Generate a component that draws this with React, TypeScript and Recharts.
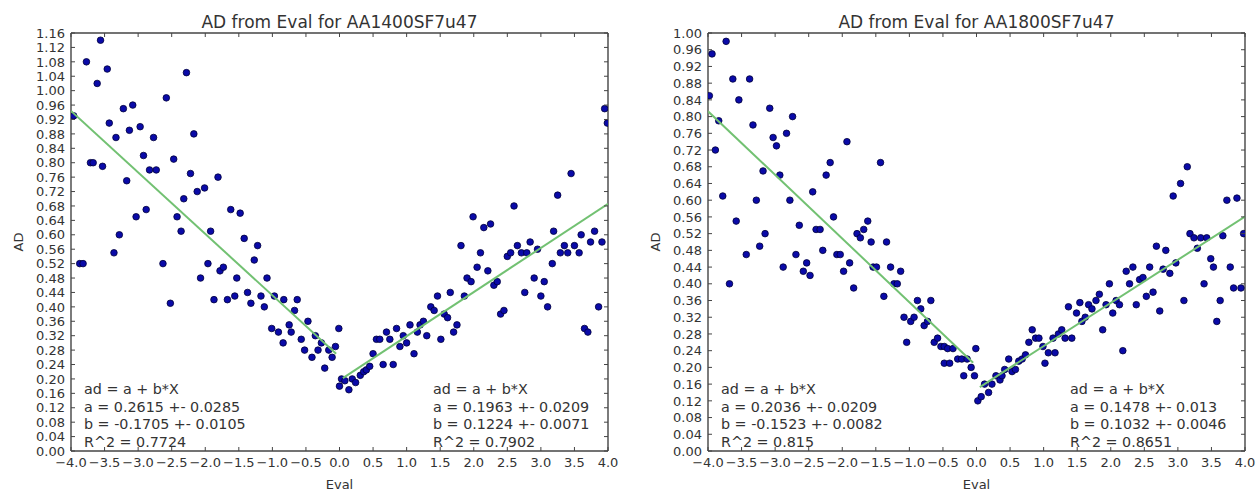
import React from 'react';
import { ScatterChart, Scatter, XAxis, YAxis } from 'recharts';

// tick values shared by both panels
const xTicks = [-4, -3.5, -3, -2.5, -2, -1.5, -1, -0.5, 0, 0.5, 1, 1.5, 2, 2.5, 3, 3.5, 4];
const yTicks1400 = [
  0, 0.04, 0.08, 0.12, 0.16, 0.2, 0.24, 0.28, 0.32, 0.36, 0.4, 0.44, 0.48, 0.52, 0.56,
  0.6, 0.64, 0.68, 0.72, 0.76, 0.8, 0.84, 0.88, 0.92, 0.96, 1.0, 1.04, 1.08, 1.12, 1.16,
];
const yTicks1800 = [
  0, 0.04, 0.08, 0.12, 0.16, 0.2, 0.24, 0.28, 0.32, 0.36, 0.4, 0.44, 0.48, 0.52, 0.56,
  0.6, 0.64, 0.68, 0.72, 0.76, 0.8, 0.84, 0.88, 0.92, 0.96, 1.0,
];

// [eval, ad] pairs
const points1400 = [
  [-3.96, 0.93], [-3.87, 0.52], [-3.82, 0.52], [-3.77, 1.08], [-3.71, 0.8], [-3.67, 0.8],
  [-3.61, 1.02], [-3.56, 1.14], [-3.53, 0.79], [-3.46, 1.06], [-3.43, 0.91], [-3.36, 0.55],
  [-3.33, 0.87], [-3.28, 0.6], [-3.22, 0.95], [-3.17, 0.75], [-3.13, 0.89], [-3.08, 0.96],
  [-3.03, 0.65], [-2.97, 0.9], [-2.92, 0.82], [-2.88, 0.67], [-2.83, 0.78], [-2.77, 0.87],
  [-2.73, 0.78], [-2.63, 0.52], [-2.58, 0.98], [-2.52, 0.41], [-2.47, 0.81], [-2.42, 0.65],
  [-2.36, 0.61], [-2.32, 0.7], [-2.28, 1.05], [-2.22, 0.77], [-2.17, 0.88], [-2.12, 0.72],
  [-2.07, 0.48], [-2.01, 0.73], [-1.96, 0.52], [-1.92, 0.61], [-1.87, 0.42], [-1.81, 0.76],
  [-1.78, 0.5], [-1.73, 0.51], [-1.67, 0.42], [-1.62, 0.67], [-1.56, 0.43], [-1.53, 0.48],
  [-1.48, 0.66], [-1.42, 0.59], [-1.37, 0.44], [-1.32, 0.41], [-1.27, 0.53], [-1.22, 0.57],
  [-1.17, 0.43], [-1.12, 0.4], [-1.08, 0.48], [-1.01, 0.34], [-0.97, 0.43], [-0.91, 0.33],
  [-0.84, 0.3], [-0.83, 0.42], [-0.75, 0.35], [-0.72, 0.33], [-0.67, 0.39], [-0.63, 0.42],
  [-0.57, 0.31], [-0.52, 0.28], [-0.47, 0.36], [-0.41, 0.26], [-0.36, 0.32], [-0.32, 0.28],
  [-0.27, 0.3], [-0.22, 0.23], [-0.16, 0.28], [-0.11, 0.26], [-0.06, 0.29], [-0.01, 0.34],
  [0.0, 0.18], [0.03, 0.2], [0.08, 0.195], [0.14, 0.17], [0.19, 0.2], [0.24, 0.19],
  [0.31, 0.21], [0.36, 0.22], [0.4, 0.225], [0.45, 0.235], [0.5, 0.27], [0.55, 0.31],
  [0.6, 0.31], [0.65, 0.24], [0.7, 0.33], [0.75, 0.31], [0.8, 0.24], [0.85, 0.34],
  [0.9, 0.29], [0.95, 0.32], [1.0, 0.3], [1.05, 0.35], [1.11, 0.27], [1.16, 0.33],
  [1.2, 0.35], [1.25, 0.36], [1.3, 0.32], [1.36, 0.4], [1.41, 0.39], [1.46, 0.43],
  [1.51, 0.31], [1.56, 0.38], [1.61, 0.37], [1.65, 0.44], [1.7, 0.33], [1.75, 0.35],
  [1.81, 0.57], [1.86, 0.43], [1.9, 0.48], [1.96, 0.47], [1.99, 0.65], [2.05, 0.51],
  [2.1, 0.55], [2.15, 0.62], [2.21, 0.5], [2.25, 0.63], [2.3, 0.46], [2.35, 0.47],
  [2.4, 0.38], [2.45, 0.39], [2.5, 0.54], [2.55, 0.55], [2.6, 0.68], [2.65, 0.57],
  [2.71, 0.55], [2.76, 0.44], [2.79, 0.55], [2.84, 0.58], [2.9, 0.48], [2.95, 0.56],
  [3.0, 0.43], [3.05, 0.47], [3.1, 0.4], [3.17, 0.52], [3.19, 0.61], [3.25, 0.71],
  [3.29, 0.55], [3.35, 0.57], [3.4, 0.55], [3.45, 0.77], [3.5, 0.57], [3.57, 0.55],
  [3.6, 0.6], [3.65, 0.34], [3.7, 0.33], [3.74, 0.58], [3.8, 0.61], [3.86, 0.4],
  [3.91, 0.58], [3.95, 0.95], [3.99, 0.91],
];

const points1800 = [
  [-3.98, 0.85], [-3.94, 0.95], [-3.89, 0.72], [-3.84, 0.79], [-3.78, 0.61], [-3.73, 0.98],
  [-3.68, 0.4], [-3.63, 0.89], [-3.58, 0.55], [-3.54, 0.84], [-3.43, 0.47], [-3.38, 0.89],
  [-3.33, 0.78], [-3.28, 0.6], [-3.23, 0.49], [-3.18, 0.67], [-3.15, 0.52], [-3.08, 0.82],
  [-3.03, 0.75], [-2.98, 0.73], [-2.93, 0.66], [-2.88, 0.44], [-2.83, 0.76], [-2.78, 0.6],
  [-2.74, 0.8], [-2.69, 0.47], [-2.64, 0.54], [-2.58, 0.43], [-2.53, 0.45], [-2.48, 0.42],
  [-2.44, 0.62], [-2.39, 0.53], [-2.33, 0.53], [-2.29, 0.48], [-2.24, 0.66], [-2.18, 0.69],
  [-2.13, 0.56], [-2.08, 0.47], [-2.03, 0.47], [-1.98, 0.43], [-1.93, 0.74], [-1.89, 0.45],
  [-1.83, 0.39], [-1.78, 0.52], [-1.73, 0.51], [-1.68, 0.53], [-1.62, 0.55], [-1.57, 0.5],
  [-1.54, 0.44], [-1.49, 0.44], [-1.43, 0.69], [-1.38, 0.37], [-1.34, 0.5], [-1.28, 0.44],
  [-1.23, 0.4], [-1.18, 0.4], [-1.13, 0.43], [-1.08, 0.32], [-1.04, 0.26], [-0.98, 0.31],
  [-0.93, 0.32], [-0.88, 0.36], [-0.83, 0.34], [-0.78, 0.3], [-0.73, 0.31], [-0.68, 0.36],
  [-0.63, 0.26], [-0.58, 0.27], [-0.53, 0.25], [-0.48, 0.25], [-0.43, 0.245], [-0.48, 0.21],
  [-0.4, 0.21], [-0.35, 0.245], [-0.28, 0.22], [-0.22, 0.22], [-0.19, 0.18], [-0.14, 0.22],
  [-0.08, 0.2], [-0.03, 0.18], [-0.01, 0.245],
  [0.02, 0.12], [0.07, 0.13], [0.12, 0.16], [0.18, 0.14], [0.23, 0.16], [0.29, 0.18],
  [0.35, 0.17], [0.38, 0.18], [0.42, 0.195], [0.48, 0.22], [0.53, 0.19], [0.58, 0.195],
  [0.63, 0.215], [0.68, 0.22], [0.73, 0.23], [0.78, 0.26], [0.83, 0.29], [0.88, 0.27],
  [0.93, 0.27], [0.99, 0.25], [1.02, 0.21], [1.07, 0.235], [1.17, 0.235], [1.14, 0.27],
  [1.22, 0.28], [1.27, 0.29], [1.32, 0.27], [1.42, 0.27], [1.37, 0.345], [1.49, 0.33],
  [1.54, 0.355], [1.57, 0.31], [1.62, 0.32], [1.67, 0.35], [1.72, 0.34], [1.78, 0.36],
  [1.83, 0.375], [1.88, 0.29], [1.93, 0.35], [1.98, 0.4], [2.03, 0.33], [2.08, 0.36],
  [2.13, 0.35], [2.18, 0.24], [2.23, 0.43], [2.28, 0.4], [2.33, 0.44], [2.38, 0.35],
  [2.43, 0.41], [2.48, 0.415], [2.53, 0.37], [2.58, 0.44], [2.63, 0.38], [2.68, 0.49],
  [2.73, 0.335], [2.78, 0.435], [2.82, 0.48], [2.88, 0.425], [2.93, 0.61], [2.97, 0.45],
  [3.04, 0.64], [3.09, 0.36], [3.14, 0.68], [3.18, 0.52], [3.24, 0.51], [3.29, 0.485],
  [3.34, 0.51], [3.43, 0.51], [3.39, 0.4], [3.49, 0.46], [3.53, 0.44], [3.58, 0.31],
  [3.63, 0.36], [3.67, 0.515], [3.73, 0.6], [3.78, 0.44], [3.83, 0.39], [3.94, 0.39],
  [3.88, 0.605], [3.98, 0.52],
];

// fitted lines (ends of each segment)
const fit1400Neg = [[-4, 0.9435], [-0.05, 0.27]];
const fit1400Pos = [[0.05, 0.2024], [4, 0.6859]];
const fit1800Neg = [[-4, 0.8128], [-0.05, 0.2112]];
const fit1800Pos = [[0.05, 0.153], [4, 0.5606]];

const notes1400Neg = ['ad = a + b*X', 'a = 0.2615 +- 0.0285', 'b = -0.1705 +- 0.0105', 'R^2 = 0.7724'];
const notes1400Pos = ['ad = a + b*X', 'a = 0.1963 +- 0.0209', 'b = 0.1224 +- 0.0071', 'R^2 = 0.7902'];
const notes1800Neg = ['ad = a + b*X', 'a = 0.2036 +- 0.0209', 'b = -0.1523 +- 0.0082', 'R^2 = 0.815'];
const notes1800Pos = ['ad = a + b*X', 'a = 0.1478 +- 0.013', 'b = 0.1032 +- 0.0046', 'R^2 = 0.8651'];

const H = 491;
const PLOT_LEFT = 71;
const PLOT_RIGHT = 608;
const PLOT_TOP = 33;
const INK = '#333';
const DOT = '#0a0aa8';
const GREEN = '#72c172';
const FONT = '"DejaVu Sans", sans-serif';

const toPts = (a: number[][]) => a.map(([x, y]) => ({ x, y }));
const fmtX = (v: number) => (v < 0 ? '\u2212' + Math.abs(v).toFixed(1) : v.toFixed(1));

const frame = { stroke: '#444', strokeWidth: 1.4 };

const BottomTick = (p: any) => (
  <g>
    <line x1={p.x} x2={p.x} y1={p.y} y2={p.y - 4} stroke="#444" />
    <text x={p.x} y={p.y + 16} textAnchor="middle" fontSize={13} fill={INK}>
      {fmtX(p.payload.value)}
    </text>
  </g>
);
const TopTick = (p: any) => <line x1={p.x} x2={p.x} y1={p.y} y2={p.y + 4} stroke="#444" />;
const LeftTick = (p: any) => (
  <g>
    <line x1={p.x + 6} x2={p.x + 10} y1={p.y} y2={p.y} stroke="#444" />
    <text x={p.x} y={p.y} dy="0.36em" textAnchor="end" fontSize={13} fill={INK}>
      {p.payload.value.toFixed(2)}
    </text>
  </g>
);
const RightTick = (p: any) => <line x1={p.x - 4} x2={p.x} y1={p.y} y2={p.y} stroke="#444" />;

const Dot = (p: any) => <circle cx={p.cx} cy={p.cy} r={3.3} fill={DOT} stroke="#00003a" strokeWidth={0.8} />;
const NoDot = () => <g />;

function Notes({ x, lines }: { x: number; lines: string[] }) {
  return (
    <text fontSize={14.3} fill={INK}>
      {lines.map((s, i) => (
        <tspan key={i} x={x} y={394 + i * 17.7}>
          {s}
        </tspan>
      ))}
    </text>
  );
}

interface PanelProps {
  left: number;
  width: number;
  title: string;
  points: number[][];
  fitNeg: number[][];
  fitPos: number[][];
  yMax: number;
  yTicks: number[];
  notesNeg: string[];
  notesPos: string[];
}

function Panel({ left, width, title, points, fitNeg, fitPos, yMax, yTicks, notesNeg, notesPos }: PanelProps) {
  return (
    <div style={{ position: 'absolute', left, top: 0, width, height: H }}>
      <ScatterChart
        width={width}
        height={H}
        margin={{ top: PLOT_TOP - 1, right: width - PLOT_RIGHT - 1, bottom: 0, left: 0 }}
      >
        <XAxis
          xAxisId="b"
          type="number"
          dataKey="x"
          domain={[-4, 4]}
          ticks={xTicks}
          interval={0}
          height={40}
          tickSize={0}
          tickMargin={0}
          tick={BottomTick}
          tickLine={false}
          axisLine={frame}
          allowDataOverflow
          label={{ value: 'Eval', position: 'insideBottom', offset: 2, fill: INK, fontSize: 13 }}
        />
        <XAxis
          xAxisId="t"
          orientation="top"
          type="number"
          dataKey="x"
          domain={[-4, 4]}
          ticks={xTicks}
          interval={0}
          height={1}
          tickSize={0}
          tickMargin={0}
          tick={TopTick}
          tickLine={false}
          axisLine={frame}
          allowDataOverflow
        />
        <YAxis
          yAxisId="l"
          type="number"
          dataKey="y"
          domain={[0, yMax]}
          ticks={yTicks}
          interval={0}
          width={PLOT_LEFT}
          tickSize={0}
          tickMargin={6}
          tick={LeftTick}
          tickLine={false}
          axisLine={frame}
          allowDataOverflow
          label={{
            value: 'AD',
            angle: -90,
            position: 'insideLeft',
            offset: 18,
            fill: INK,
            fontSize: 13,
            style: { textAnchor: 'middle' },
          }}
        />
        <YAxis
          yAxisId="r"
          orientation="right"
          type="number"
          dataKey="y"
          domain={[0, yMax]}
          ticks={yTicks}
          interval={0}
          width={1}
          tickSize={0}
          tickMargin={0}
          tick={RightTick}
          tickLine={false}
          axisLine={frame}
          allowDataOverflow
        />
        <Scatter xAxisId="b" yAxisId="l" data={toPts(points)} shape={Dot} isAnimationActive={false} />
        <Scatter
          xAxisId="b"
          yAxisId="l"
          data={toPts(fitNeg)}
          fill={GREEN}
          line={{ stroke: GREEN, strokeWidth: 2 }}
          shape={NoDot}
          isAnimationActive={false}
        />
        <Scatter
          xAxisId="t"
          yAxisId="r"
          data={toPts(fitPos)}
          fill={GREEN}
          line={{ stroke: GREEN, strokeWidth: 2 }}
          shape={NoDot}
          isAnimationActive={false}
        />
      </ScatterChart>
      <svg
        width={width}
        height={H}
        style={{ position: 'absolute', left: 0, top: 0, pointerEvents: 'none', fontFamily: FONT }}
      >
        <text x={(PLOT_LEFT + PLOT_RIGHT) / 2} y={28} textAnchor="middle" fontSize={17} fill={INK}>
          {title}
        </text>
        <Notes x={84} lines={notesNeg} />
        <Notes x={433} lines={notesPos} />
      </svg>
    </div>
  );
}

export default function App() {
  return (
    <div
      style={{
        position: 'absolute',
        left: 0,
        top: 0,
        width: 1258,
        height: H,
        background: '#fff',
        fontFamily: FONT,
      }}
    >
      <Panel
        left={0}
        width={629}
        title="AD from Eval for AA1400SF7u47"
        points={points1400}
        fitNeg={fit1400Neg}
        fitPos={fit1400Pos}
        yMax={1.16}
        yTicks={yTicks1400}
        notesNeg={notes1400Neg}
        notesPos={notes1400Pos}
      />
      <Panel
        left={637}
        width={621}
        title="AD from Eval for AA1800SF7u47"
        points={points1800}
        fitNeg={fit1800Neg}
        fitPos={fit1800Pos}
        yMax={1.0}
        yTicks={yTicks1800}
        notesNeg={notes1800Neg}
        notesPos={notes1800Pos}
      />
    </div>
  );
}
